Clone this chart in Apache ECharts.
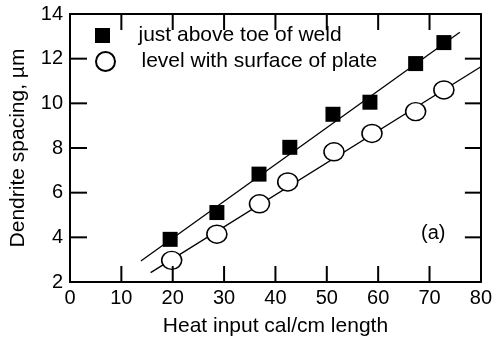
<!DOCTYPE html>
<html><head><meta charset="utf-8">
<script src="https://cdn.jsdelivr.net/npm/echarts@6/dist/echarts.min.js"></script>
<style>html,body{margin:0;padding:0;background:#fff}#c{width:495px;height:343px}</style>
</head><body><div id="c"></div>
<script>
var squareX = [19.5, 28.6, 36.8, 42.8, 51.2, 58.4, 67.3, 72.8];
var squareY = [3.91, 5.11, 6.83, 8.03, 9.51, 10.05, 11.78, 12.72];
var circleX = [19.8, 28.6, 36.9, 42.4, 51.4, 58.8, 67.3, 72.8];
var circleY = [2.97, 4.14, 5.5, 6.48, 7.83, 8.65, 9.63, 10.6];
var fitSquareX = [13.8, 75.9];
var fitSquareY = [2.94, 13.18];
var fitCircleX = [15.7, 80];
var fitCircleY = [2.42, 11.64];
var xTicks = [0, 80, 10];
var yTicks = [2, 14, 2];
var xTickValues = [10, 20, 30, 40, 50, 60, 70];
var yTickValues = [4, 6, 8, 10, 12];
var seriesNames = ['just above toe of weld', 'level with surface of plate'];

function pairs(xs, ys){ return xs.map(function(x,i){ return [x, ys[i]]; }); }
var FONT = 'Liberation Sans, Arial, Helvetica, sans-serif';
var chart = echarts.init(document.getElementById('c'));
var legendText = {fontSize: 21, color: '#000', fontFamily: FONT};
function noTick(){ return {show: false}; }
function line(){ return {show: true, onZero: false, lineStyle: {color: '#000', width: 2}}; }

// inward tick marks on all four sides, placed through the axes' scales
function tickSeries(data, size, offset){
  return {type: 'scatter', data: data, symbol: 'rect', symbolSize: size, symbolOffset: offset,
    itemStyle: {color: '#000', opacity: 1}, silent: true, clip: false, z: 5};
}
var bottomTicks = xTickValues.map(function(v){ return [v, yTicks[0]]; });
var topTicks = xTickValues.map(function(v){ return [v, yTicks[1]]; });
var leftTicks = yTickValues.map(function(v){ return [xTicks[0], v]; });
var rightTicks = yTickValues.map(function(v){ return [xTicks[1], v]; });

chart.setOption({
  animation: false,
  backgroundColor: '#fff',
  grid: {left: 70, right: 9, top: 14, bottom: 61},
  title: {text: '(a)', left: 421, top: 223, padding: 0,
    textStyle: {fontSize: 20, fontWeight: 'normal', color: '#000', fontFamily: FONT}},
  legend: [
    {left: 95, top: 25, padding: 0, itemWidth: 62, itemHeight: 15, symbolKeepAspect: true,
      textStyle: legendText,
      data: [{name: seriesNames[0], icon: 'path://M0,0L10,0L10,10L0,10Z'}]},
    {left: 95, top: 51, padding: 0, itemWidth: 62, itemHeight: 19,
      textStyle: legendText,
      data: [{name: seriesNames[1], icon: 'circle'}]}
  ],
  xAxis: [
    {type: 'value', min: xTicks[0], max: xTicks[1], interval: xTicks[2],
      axisLine: line(), axisTick: noTick(), splitLine: {show: false},
      name: 'Heat input cal/cm length', nameLocation: 'middle', nameGap: 34,
      nameTextStyle: {fontSize: 21, color: '#000', fontFamily: FONT},
      axisLabel: {fontSize: 20, color: '#000', margin: 6, fontFamily: FONT}},
    {type: 'value', min: xTicks[0], max: xTicks[1], interval: xTicks[2], position: 'top',
      axisLine: line(), axisTick: noTick(), splitLine: {show: false},
      axisLabel: {show: false}}
  ],
  yAxis: [
    {type: 'value', min: yTicks[0], max: yTicks[1], interval: yTicks[2],
      axisLine: line(), axisTick: noTick(), splitLine: {show: false},
      name: 'Dendrite spacing, µm', nameLocation: 'middle', nameGap: 41,
      nameTextStyle: {fontSize: 21, color: '#000', fontFamily: FONT},
      axisLabel: {fontSize: 20, color: '#000', margin: 7, fontFamily: FONT}},
    {type: 'value', min: yTicks[0], max: yTicks[1], interval: yTicks[2], position: 'right',
      axisLine: line(), axisTick: noTick(), splitLine: {show: false},
      axisLabel: {show: false}}
  ],
  series: [
    tickSeries(bottomTicks, [2, 16], [0, -8]),
    tickSeries(topTicks, [2, 16], [0, 8]),
    tickSeries(leftTicks, [17, 2], [8.5, 0]),
    tickSeries(rightTicks, [16, 2], [-8, 0]),
    {type: 'line', data: pairs(fitSquareX, fitSquareY), symbol: 'none', lineStyle: {color: '#000', width: 1.3}, silent: true, z: 1},
    {type: 'line', data: pairs(fitCircleX, fitCircleY), symbol: 'none', lineStyle: {color: '#000', width: 1.3}, silent: true, z: 1},
    {name: seriesNames[0], type: 'scatter', data: pairs(squareX, squareY), symbol: 'rect', symbolSize: 15,
      itemStyle: {color: '#000', opacity: 1}, z: 3},
    {name: seriesNames[1], type: 'scatter', data: pairs(circleX, circleY), symbol: 'circle', symbolSize: [20, 18],
      itemStyle: {color: '#fff', borderColor: '#000', borderWidth: 1.5, opacity: 1}, z: 3}
  ]
});
</script></body></html>
